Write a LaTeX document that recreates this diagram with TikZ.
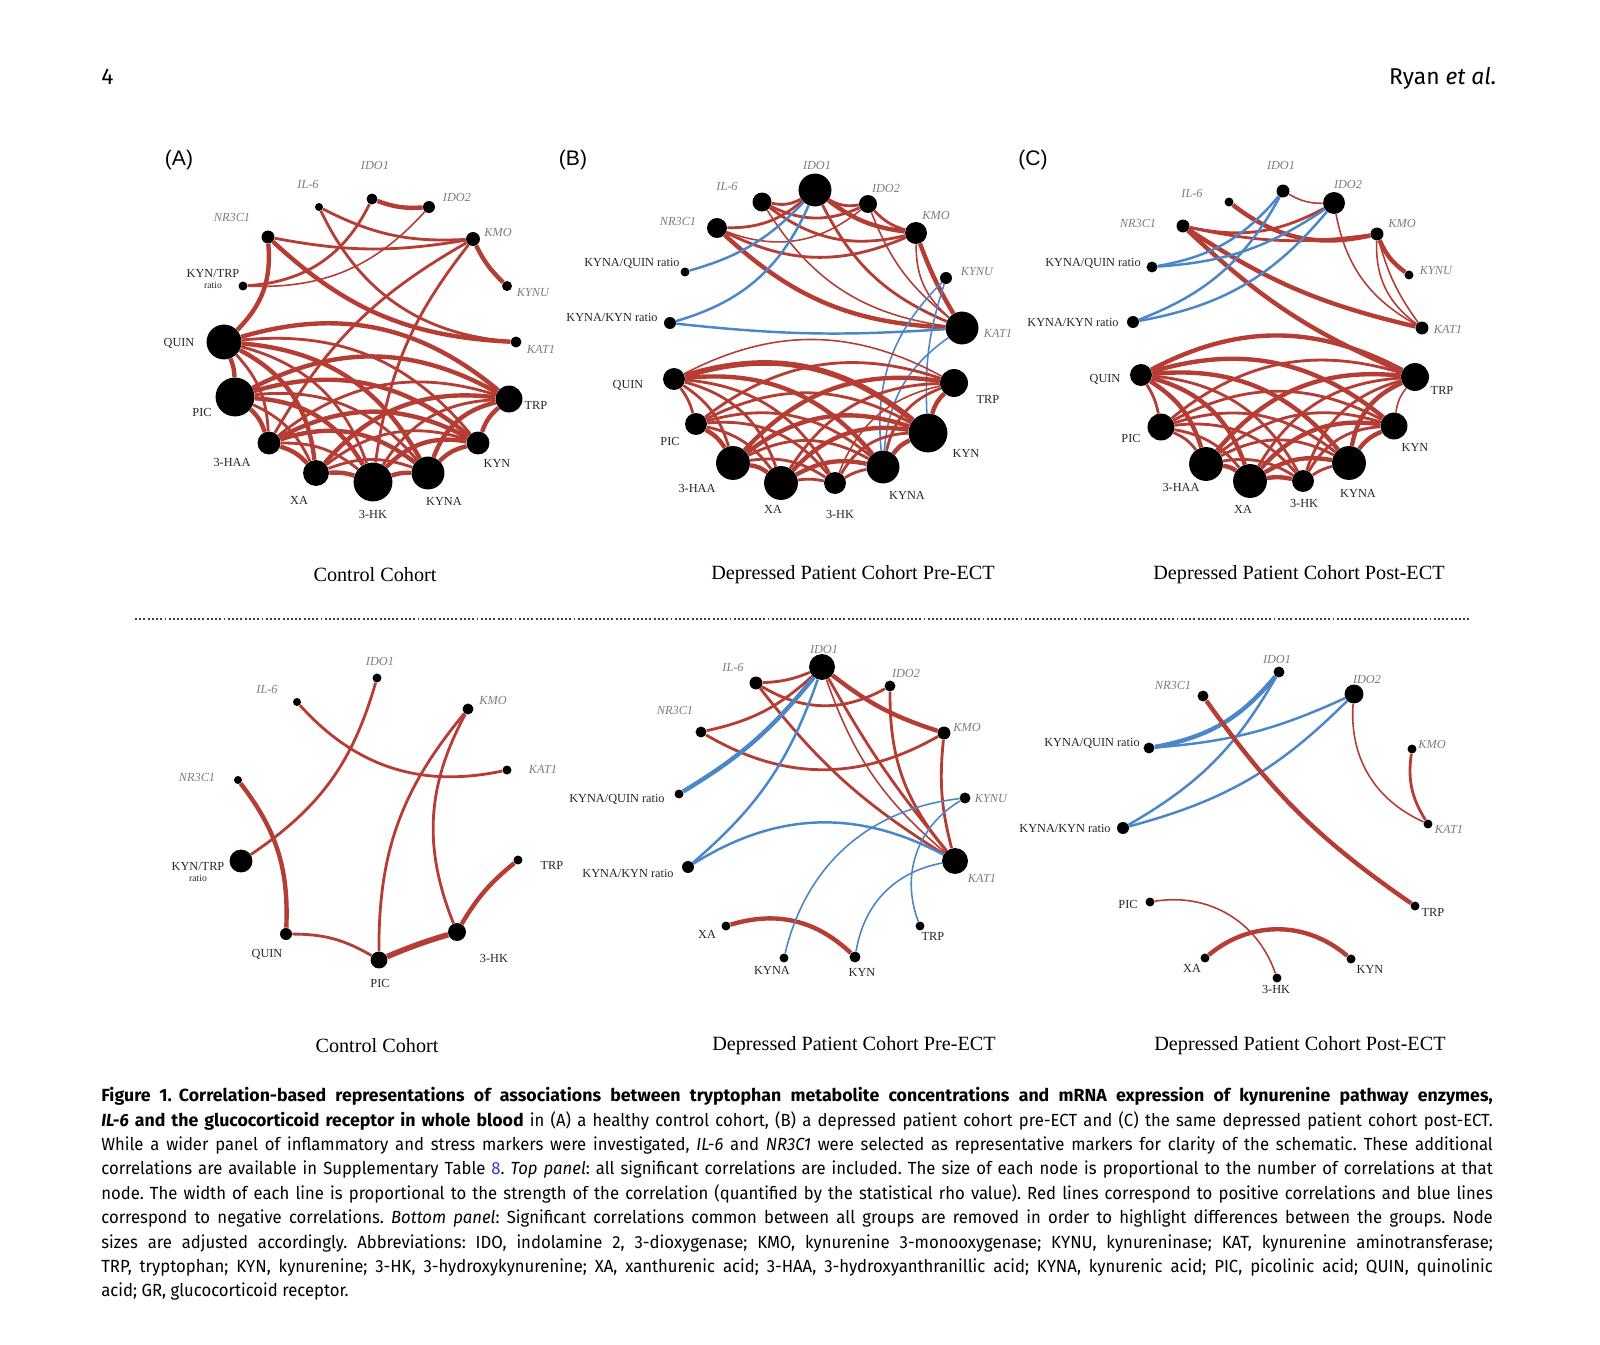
\documentclass[tikz,border=0pt]{standalone}
\usepackage{fontspec}
\setmainfont{Liberation Serif}
\newfontfamily\capfont[FakeStretch=0.95, BoldFeatures={FakeStretch=1.01}]{Fira Sans}
\newfontfamily\headfont{Fira Sans}
\newfontfamily\panelfont{Liberation Sans}
\usepackage{xcolor}
\usepackage{tikz}

\definecolor{posred}{RGB}{181,61,52}
\definecolor{negblue}{RGB}{74,134,200}
\definecolor{genegray}{RGB}{125,125,125}
\definecolor{linkblue}{RGB}{40,60,220}

\pgfdeclarelayer{paper}
\pgfdeclarelayer{links}
\pgfsetlayers{paper,links,main}

\begin{document}
\begin{tikzpicture}[
    x=0.02cm, y=-0.02cm,
    met/.style={circle, fill=black, inner sep=0pt, minimum size=1.134pt*#1},
    gene/.style={font=\fontsize{7}{8}\selectfont\itshape, text=genegray, inner sep=0pt},
    metab/.style={font=\fontsize{7}{8}\selectfont, text=black!85, inner sep=0pt},
    poscor/.style={draw=posred, line width=1.6pt},
    negcor/.style={draw=negblue, line width=1.4pt},
    fine/.style={line width=0.9pt},
    heavy/.style={line width=2.5pt},
    inward/.style={bend right=#1},
    inward/.default=28,
    cohort/.style={font=\fontsize{11.5}{13}\selectfont},
    panel/.style={font=\panelfont\fontsize{12}{14}\selectfont},
    header/.style={font=\headfont\fontsize{13}{15}\selectfont, inner sep=0pt},
    capt/.style={font=\capfont\fontsize{10}{13.9}\selectfont, inner sep=0pt, text width=792pt, align=justify},
    sep/.style={draw=black!75, line width=1.3pt, dash pattern=on 1.1pt off 1.3pt}
]
\begin{pgfonlayer}{paper}
\fill[white] (0,0) rectangle (1600,1345);
\end{pgfonlayer}
\useasboundingbox (0,0) rectangle (1600,1345);

% Running head
\node[header, anchor=base west] (pagenum) at (101,85) {4};
\node[header, anchor=base east] (runhead) at (1497,85) {Ryan \textit{et al.}};

% Panel letters
\node[panel] (letA) at (179,160) {(A)};
\node[panel] (letB) at (573,160) {(B)};
\node[panel] (letC) at (1033,160) {(C)};

% (A) top nodes
\node[met=5.5] (IDO1a) at (372,199) {};
\node[met=4] (IL6a) at (319,207) {};
\node[met=6] (IDO2a) at (429,207) {};
\node[met=6.5] (NR3C1a) at (268,237) {};
\node[met=7] (KMOa) at (473,239) {};
\node[met=4.5] (KTRa) at (243,286) {};
\node[met=5] (KYNUa) at (507,286) {};
\node[met=17.5] (QUINa) at (224,342) {};
\node[met=5.5] (KAT1a) at (516,342) {};
\node[met=19.5] (PICa) at (235,397) {};
\node[met=13.5] (TRPa) at (509,399) {};
\node[met=11.5] (HAAa) at (269,443) {};
\node[met=11.5] (KYNa) at (478,443) {};
\node[met=13] (XAa) at (316,473) {};
\node[met=19.5] (HKa) at (373,482) {};
\node[met=16.5] (KYNAa) at (428,473) {};

% (A) top labels
\node[gene] (lIDO1a) at (375,165) {IDO1};
\node[gene] (lIL6a) at (308,184) {IL-6};
\node[gene] (lIDO2a) at (457,197) {IDO2};
\node[gene] (lNR3C1a) at (232,217) {NR3C1};
\node[gene] (lKMOa) at (498,232) {KMO};
\node[gene] (lKYNUa) at (533,293) {KYNU};
\node[gene] (lKAT1a) at (541,349) {KAT1};
\node[metab, align=center] (lKTRa) at (213,279) {KYN/TRP\\[-2pt]{\fontsize{5.5}{6}\selectfont ratio}};
\node[metab] (lQUINa) at (179,343) {QUIN};
\node[metab] (lPICa) at (202,412) {PIC};
\node[metab] (lTRPa) at (536,405) {TRP};
\node[metab] (lHAAa) at (232,462) {3-HAA};
\node[metab] (lKYNa) at (497,463) {KYN};
\node[metab] (lXAa) at (299,500) {XA};
\node[metab] (lHKa) at (373,514) {3-HK};
\node[metab] (lKYNAa) at (444,501) {KYNA};

% (B) top nodes
\node[met=16.5] (IDO1b) at (815,190) {};
\node[met=9.5] (IL6b) at (762,202) {};
\node[met=9] (IDO2b) at (868,204) {};
\node[met=10] (NR3C1b) at (717,228) {};
\node[met=11] (KMOb) at (916,233) {};
\node[met=4.5] (KQb) at (685,272) {};
\node[met=6] (KYNUb) at (946,278) {};
\node[met=6] (KKb) at (670,323) {};
\node[met=16.5] (KAT1b) at (962,328) {};
\node[met=11] (QUINb) at (674,379) {};
\node[met=14] (TRPb) at (954,383) {};
\node[met=11] (PICb) at (696,424) {};
\node[met=19.5] (KYNb) at (928,433) {};
\node[met=17] (HAAb) at (733,463) {};
\node[met=16.5] (KYNAb) at (883,467) {};
\node[met=17] (XAb) at (781,483) {};
\node[met=11] (HKb) at (835,483) {};

% (B) top labels
\node[gene] (lIDO1b) at (817,165) {IDO1};
\node[gene] (lIL6b) at (727,186) {IL-6};
\node[gene] (lIDO2b) at (886,188) {IDO2};
\node[gene] (lNR3C1b) at (678,221) {NR3C1};
\node[gene] (lKMOb) at (936,215) {KMO};
\node[gene] (lKYNUb) at (977,272) {KYNU};
\node[gene] (lKAT1b) at (998,333) {KAT1};
\node[metab] (lKQb) at (632,263) {KYNA/QUIN ratio};
\node[metab] (lKKb) at (612,317) {KYNA/KYN ratio};
\node[metab] (lQUINb) at (628,385) {QUIN};
\node[metab] (lTRPb) at (988,399) {TRP};
\node[metab] (lPICb) at (670,441) {PIC};
\node[metab] (lKYNb) at (966,453) {KYN};
\node[metab] (lHAAb) at (697,488) {3-HAA};
\node[metab] (lKYNAb) at (907,495) {KYNA};
\node[metab] (lXAb) at (773,509) {XA};
\node[metab] (lHKb) at (840,514) {3-HK};

% (C) top nodes
\node[met=6.5] (IDO1c) at (1283,191) {};
\node[met=11] (IDO2c) at (1334,203) {};
\node[met=4.5] (IL6c) at (1229,202) {};
\node[met=6.5] (NR3C1c) at (1183,226) {};
\node[met=6.5] (KMOc) at (1377,234) {};
\node[met=5.5] (KQc) at (1152,267) {};
\node[met=4.5] (KYNUc) at (1409,275) {};
\node[met=6] (KKc) at (1133,322) {};
\node[met=6.5] (KAT1c) at (1422,328) {};
\node[met=11] (QUINc) at (1141,375) {};
\node[met=14] (TRPc) at (1415,377) {};
\node[met=13.5] (PICc) at (1161,427) {};
\node[met=13.5] (KYNc) at (1394,426) {};
\node[met=17] (HAAc) at (1206,464) {};
\node[met=17] (KYNAc) at (1349,463) {};
\node[met=17] (XAc) at (1250,481) {};
\node[met=11] (HKc) at (1303,481) {};

% (C) top labels
\node[gene] (lIDO1c) at (1281,165) {IDO1};
\node[gene] (lIDO2c) at (1348,184) {IDO2};
\node[gene] (lIL6c) at (1192,193) {IL-6};
\node[gene] (lNR3C1c) at (1138,223) {NR3C1};
\node[gene] (lKMOc) at (1402,223) {KMO};
\node[gene] (lKYNUc) at (1436,271) {KYNU};
\node[gene] (lKAT1c) at (1448,329) {KAT1};
\node[metab] (lKQc) at (1093,263) {KYNA/QUIN ratio};
\node[metab] (lKKc) at (1073,322) {KYNA/KYN ratio};
\node[metab] (lQUINc) at (1105,379) {QUIN};
\node[metab] (lTRPc) at (1442,390) {TRP};
\node[metab] (lPICc) at (1131,438) {PIC};
\node[metab] (lKYNc) at (1415,447) {KYN};
\node[metab] (lHAAc) at (1181,487) {3-HAA};
\node[metab] (lKYNAc) at (1358,493) {KYNA};
\node[metab] (lXAc) at (1243,509) {XA};
\node[metab] (lHKc) at (1304,503) {3-HK};

% (A) bottom nodes
\node[met=4.5] (IDO1d) at (377,678) {};
\node[met=4] (IL6d) at (297,702) {};
\node[met=5.5] (KMOd) at (468,709) {};
\node[met=4.5] (KAT1d) at (507,770) {};
\node[met=4] (NR3C1d) at (238,780) {};
\node[met=11.5] (KTRd) at (241,861) {};
\node[met=4.5] (TRPd) at (518,860) {};
\node[met=6] (QUINd) at (286,934) {};
\node[met=9] (HKd) at (457,932) {};
\node[met=8.5] (PICd) at (379,960) {};

% (A) bottom labels
\node[gene] (lIDO1d) at (380,661) {IDO1};
\node[gene] (lIL6d) at (267,689) {IL-6};
\node[gene] (lKMOd) at (493,700) {KMO};
\node[gene] (lKAT1d) at (543,769) {KAT1};
\node[gene] (lNR3C1d) at (197,777) {NR3C1};
\node[metab, align=center] (lKTRd) at (198,872) {KYN/TRP\\[-2pt]{\fontsize{5.5}{6}\selectfont ratio}};
\node[metab] (lTRPd) at (552,865) {TRP};
\node[metab] (lQUINd) at (267,954) {QUIN};
\node[metab] (lHKd) at (494,958) {3-HK};
\node[metab] (lPICd) at (380,983) {PIC};

% (B) bottom nodes
\node[met=13] (IDO1e) at (822,667) {};
\node[met=6.5] (IL6e) at (756,683) {};
\node[met=5.5] (IDO2e) at (890,686) {};
\node[met=5.5] (NR3C1e) at (701,732) {};
\node[met=6.5] (KMOe) at (944,733) {};
\node[met=4.5] (KQe) at (679,794) {};
\node[met=5.5] (KYNUe) at (965,798) {};
\node[met=6] (KKe) at (688,867) {};
\node[met=13] (KAT1e) at (955,861) {};
\node[met=4.5] (XAe) at (726,926) {};
\node[met=4.5] (TRPe) at (920,926) {};
\node[met=4.5] (KYNAe) at (784,958) {};
\node[met=5.5] (KYNe) at (855,957) {};

% (B) bottom labels
\node[gene] (lIDO1e) at (824,649) {IDO1};
\node[gene] (lIL6e) at (733,667) {IL-6};
\node[gene] (lIDO2e) at (906,673) {IDO2};
\node[gene] (lNR3C1e) at (675,710) {NR3C1};
\node[gene] (lKMOe) at (967,727) {KMO};
\node[gene] (lKYNUe) at (991,799) {KYNU};
\node[gene] (lKAT1e) at (982,878) {KAT1};
\node[metab] (lKQe) at (617,799) {KYNA/QUIN ratio};
\node[metab] (lKKe) at (628,873) {KYNA/KYN ratio};
\node[metab] (lXAe) at (707,934) {XA};
\node[metab] (lTRPe) at (933,936) {TRP};
\node[metab] (lKYNAe) at (772,970) {KYNA};
\node[metab] (lKYNe) at (862,972) {KYN};

% (C) bottom nodes
\node[met=5.5] (IDO1f) at (1279,672) {};
\node[met=5.5] (NR3C1f) at (1203,696) {};
\node[met=9.5] (IDO2f) at (1354,694) {};
\node[met=5.5] (KQf) at (1149,748) {};
\node[met=4.5] (KMOf) at (1412,749) {};
\node[met=6] (KKf) at (1123,828) {};
\node[met=4.5] (KAT1f) at (1428,824) {};
\node[met=4.5] (PICf) at (1150,902) {};
\node[met=4.5] (TRPf) at (1415,906) {};
\node[met=4.5] (XAf) at (1205,958) {};
\node[met=4.5] (KYNf) at (1351,959) {};
\node[met=4.5] (HKf) at (1277,978) {};

% (C) bottom labels
\node[gene] (lIDO1f) at (1277,659) {IDO1};
\node[gene] (lNR3C1f) at (1173,685) {NR3C1};
\node[gene] (lIDO2f) at (1367,679) {IDO2};
\node[gene] (lKMOf) at (1432,744) {KMO};
\node[gene] (lKAT1f) at (1449,829) {KAT1};
\node[metab] (lKQf) at (1092,743) {KYNA/QUIN ratio};
\node[metab] (lKKf) at (1065,828) {KYNA/KYN ratio};
\node[metab] (lPICf) at (1128,904) {PIC};
\node[metab] (lTRPf) at (1433,912) {TRP};
\node[metab] (lXAf) at (1192,968) {XA};
\node[metab] (lKYNf) at (1370,969) {KYN};
\node[metab] (lHKf) at (1276,989) {3-HK};

\begin{pgfonlayer}{links}
% (A) top: enzyme links
\draw[poscor, heavy] (IDO1a) to[inward=12] (IDO2a);
\draw[poscor] (KTRa) to[inward=30] (IDO1a);
\draw[poscor, fine] (KTRa) to[inward=25] (IDO2a);
\draw[poscor] (IL6a) to[inward=15] (KMOa);
\draw[poscor] (IL6a) to[inward=30] (KAT1a);
\draw[poscor] (NR3C1a) to[inward=10] (KMOa);
\draw[poscor, heavy] (NR3C1a) to[inward=20] (KAT1a);
\draw[poscor, heavy] (QUINa) to[inward=25] (NR3C1a);
\draw[poscor, heavy] (KMOa) to[inward=10] (KYNUa);
\draw[poscor] (KMOa) to[inward=15] (HAAa);
\draw[poscor] (KMOa) to[inward=15] (HKa);
% (A) top: metabolite links
\draw[poscor, heavy] (TRPa) to[inward=15] (KYNa);
\draw[poscor, heavy] (TRPa) to[inward] (KYNAa);
\draw[poscor] (TRPa) to[inward] (HKa);
\draw[poscor, heavy] (TRPa) to[inward] (XAa);
\draw[poscor] (TRPa) to[inward] (HAAa);
\draw[poscor, heavy] (TRPa) to[inward] (PICa);
\draw[poscor, heavy] (TRPa) to[inward] (QUINa);
\draw[poscor, heavy] (KYNa) to[inward=15] (KYNAa);
\draw[poscor, heavy] (KYNa) to[inward] (HKa);
\draw[poscor] (KYNa) to[inward] (XAa);
\draw[poscor, heavy] (KYNa) to[inward] (HAAa);
\draw[poscor, heavy] (KYNa) to[inward] (PICa);
\draw[poscor] (KYNa) to[inward] (QUINa);
\draw[poscor, heavy] (KYNAa) to[inward=10] (HKa);
\draw[poscor] (KYNAa) to[inward=20] (XAa);
\draw[poscor, heavy] (KYNAa) to[inward] (HAAa);
\draw[poscor] (KYNAa) to[inward] (PICa);
\draw[poscor, heavy] (KYNAa) to[inward] (QUINa);
\draw[poscor, heavy] (HKa) to[inward=10] (XAa);
\draw[poscor] (HKa) to[inward=20] (HAAa);
\draw[poscor, heavy] (HKa) to[inward] (PICa);
\draw[poscor] (HKa) to[inward] (QUINa);
\draw[poscor, heavy] (XAa) to[inward=15] (HAAa);
\draw[poscor] (XAa) to[inward=20] (PICa);
\draw[poscor, heavy] (XAa) to[inward] (QUINa);
\draw[poscor, heavy] (HAAa) to[inward=15] (PICa);
\draw[poscor] (HAAa) to[inward=20] (QUINa);
\draw[poscor, heavy] (PICa) to[inward=10] (QUINa);

% (B) top: enzyme links
\draw[poscor] (IL6b) to[inward=20] (IDO1b);
\draw[poscor] (IL6b) to[inward=25] (IDO2b);
\draw[poscor] (IL6b) to[inward=25] (KMOb);
\draw[poscor, fine] (IL6b) to[inward=25] (KAT1b);
\draw[poscor] (IDO1b) to[inward=20] (IDO2b);
\draw[poscor, heavy] (IDO1b) to[inward=15] (KMOb);
\draw[poscor] (IDO1b) to[inward=20] (KAT1b);
\draw[poscor] (IDO2b) to[inward=15] (KMOb);
\draw[poscor, fine] (IDO2b) to[inward=15] (KAT1b);
\draw[poscor] (NR3C1b) to[inward=20] (IDO1b);
\draw[poscor, fine] (NR3C1b) to[inward=30] (IDO2b);
\draw[poscor] (NR3C1b) to[inward=25] (KMOb);
\draw[poscor, heavy] (NR3C1b) to[inward=20] (KAT1b);
\draw[poscor, heavy] (KMOb) to[inward=5] (KAT1b);
\draw[poscor, fine] (KMOb) to[inward=25] (KAT1b);
\draw[negcor] (KQb) to[inward=15] (IDO1b);
\draw[negcor] (KKb) to[inward=25] (IDO1b);
\draw[negcor] (KKb) to[inward=5] (KAT1b);
\draw[negcor, fine] (KYNUb) to[inward=10] (KYNb);
\draw[negcor, fine] (KYNUb) to[inward=25] (KYNAb);
\draw[negcor, fine] (KAT1b) to[inward=25] (KYNAb);
% (B) top: metabolite links
\draw[poscor, heavy] (TRPb) to[inward=15] (KYNb);
\draw[poscor] (TRPb) to[inward] (KYNAb);
\draw[poscor, fine] (TRPb) to[inward] (HKb);
\draw[poscor] (TRPb) to[inward] (XAb);
\draw[poscor, heavy] (TRPb) to[inward] (HAAb);
\draw[poscor] (TRPb) to[inward] (PICb);
\draw[poscor, fine] (TRPb) to[inward] (QUINb);
\draw[poscor, heavy] (KYNb) to[inward=15] (KYNAb);
\draw[poscor] (KYNb) to[inward] (HKb);
\draw[poscor, heavy] (KYNb) to[inward] (XAb);
\draw[poscor, heavy] (KYNb) to[inward] (HAAb);
\draw[poscor] (KYNb) to[inward] (PICb);
\draw[poscor, line width=3.2pt] (KYNb) to[inward] (QUINb);
\draw[poscor] (KYNAb) to[inward=10] (HKb);
\draw[poscor, heavy] (KYNAb) to[inward=20] (XAb);
\draw[poscor] (KYNAb) to[inward] (HAAb);
\draw[poscor] (KYNAb) to[inward] (PICb);
\draw[poscor, heavy] (KYNAb) to[inward] (QUINb);
\draw[poscor] (HKb) to[inward=10] (XAb);
\draw[poscor] (HKb) to[inward=20] (HAAb);
\draw[poscor] (HKb) to[inward] (PICb);
\draw[poscor] (HKb) to[inward] (QUINb);
\draw[poscor, heavy] (XAb) to[inward=15] (HAAb);
\draw[poscor] (XAb) to[inward=20] (PICb);
\draw[poscor] (XAb) to[inward] (QUINb);
\draw[poscor, heavy] (HAAb) to[inward=15] (PICb);
\draw[poscor] (HAAb) to[inward=20] (QUINb);
\draw[poscor] (PICb) to[inward=10] (QUINb);

% (C) top: enzyme links
\draw[poscor, fine] (IDO1c) to[inward=15] (IDO2c);
\draw[poscor, heavy] (IL6c) to[inward=25] (KMOc);
\draw[poscor] (NR3C1c) to[inward=20] (IDO2c);
\draw[poscor] (NR3C1c) to[inward=10] (KMOc);
\draw[poscor, heavy] (NR3C1c) to[inward=10] (KAT1c);
\draw[poscor, heavy] (NR3C1c) to[inward=10] (TRPc);
\draw[poscor, fine] (IDO2c) to[inward=25] (KAT1c);
\draw[poscor, heavy] (KMOc) to[inward=15] (KYNUc);
\draw[poscor, fine] (KMOc) to[inward=10] (KAT1c);
\draw[poscor, fine] (KMOc) to[inward=28] (KAT1c);
\draw[negcor] (KQc) to[inward=20] (IDO1c);
\draw[negcor] (KQc) to[inward=15] (IDO2c);
\draw[negcor] (KKc) to[inward=20] (IDO1c);
\draw[negcor] (KKc) to[inward=20] (IDO2c);
% (C) top: metabolite links
\draw[poscor, fine] (TRPc) to[inward=15] (KYNc);
\draw[poscor, heavy] (TRPc) to[inward] (KYNAc);
\draw[poscor] (TRPc) to[inward] (HKc);
\draw[poscor] (TRPc) to[inward] (XAc);
\draw[poscor, heavy] (TRPc) to[inward] (HAAc);
\draw[poscor] (TRPc) to[inward] (PICc);
\draw[poscor, heavy] (TRPc) to[inward] (QUINc);
\draw[poscor, heavy] (KYNc) to[inward=15] (KYNAc);
\draw[poscor] (KYNc) to[inward] (HKc);
\draw[poscor, heavy] (KYNc) to[inward] (XAc);
\draw[poscor] (KYNc) to[inward] (HAAc);
\draw[poscor] (KYNc) to[inward] (PICc);
\draw[poscor, heavy] (KYNc) to[inward] (QUINc);
\draw[poscor] (KYNAc) to[inward=10] (HKc);
\draw[poscor, heavy] (KYNAc) to[inward=20] (XAc);
\draw[poscor] (KYNAc) to[inward] (HAAc);
\draw[poscor] (KYNAc) to[inward] (PICc);
\draw[poscor, heavy] (KYNAc) to[inward] (QUINc);
\draw[poscor, heavy] (HKc) to[inward=10] (XAc);
\draw[poscor] (HKc) to[inward=20] (HAAc);
\draw[poscor] (HKc) to[inward] (PICc);
\draw[poscor] (HKc) to[inward] (QUINc);
\draw[poscor, heavy] (XAc) to[inward=15] (HAAc);
\draw[poscor] (XAc) to[inward=20] (PICc);
\draw[poscor, heavy] (XAc) to[inward] (QUINc);
\draw[poscor] (HAAc) to[inward=15] (PICc);
\draw[poscor, heavy] (HAAc) to[inward=20] (QUINc);
\draw[poscor] (PICc) to[inward=10] (QUINc);

% (A) bottom links
\draw[poscor] (KTRd) to[inward=20] (IDO1d);
\draw[poscor] (IL6d) to[inward=30] (KAT1d);
\draw[poscor, heavy] (QUINd) to[inward=20] (NR3C1d);
\draw[poscor] (PICd) to[inward=15] (QUINd);
\draw[poscor, line width=3.2pt] (HKd) to[inward=3] (PICd);
\draw[poscor] (KMOd) to[inward=20] (PICd);
\draw[poscor] (KMOd) to[inward=25] (HKd);
\draw[poscor, heavy] (TRPd) to[inward=10] (HKd);

% (B) bottom links
\draw[poscor] (IL6e) to[inward=10] (IDO1e);
\draw[poscor] (IL6e) to[inward=30] (IDO2e);
\draw[poscor] (IL6e) to[inward=10] (KAT1e);
\draw[poscor] (NR3C1e) to[inward=15] (IDO1e);
\draw[poscor] (NR3C1e) to[inward=30] (KMOe);
\draw[poscor, heavy] (IDO1e) to[inward=10] (KMOe);
\draw[poscor] (IDO1e) to[inward=5] (KAT1e);
\draw[poscor, fine] (IDO1e) to[inward=15] (KAT1e);
\draw[poscor] (IDO2e) to[inward=20] (KAT1e);
\draw[poscor] (KMOe) to[inward=10] (KAT1e);
\draw[poscor, heavy] (KYNe) to[inward=30] (XAe);
\draw[negcor, heavy] (KQe) to[inward=10] (IDO1e);
\draw[negcor] (KKe) to[inward=15] (IDO1e);
\draw[negcor] (KAT1e) to[inward=30] (KKe);
\draw[negcor, fine] (KYNUe) to[inward=35] (KYNAe);
\draw[negcor, fine] (KAT1e) to[inward=35] (KYNe);
\draw[negcor, fine] (KYNUe) to[inward=40] (TRPe);

% (C) bottom links
\draw[negcor, heavy] (KQf) to[inward=20] (IDO1f);
\draw[negcor] (KKf) to[inward=15] (IDO1f);
\draw[negcor] (KQf) to[inward=10] (IDO2f);
\draw[negcor] (KKf) to[inward=15] (IDO2f);
\draw[poscor, heavy] (NR3C1f) to[inward=10] (TRPf);
\draw[poscor, fine] (IDO2f) to[inward=35] (KAT1f);
\draw[poscor] (KMOf) to[inward=20] (KAT1f);
\draw[poscor, fine] (HKf) to[inward=40] (PICf);
\draw[poscor, heavy] (KYNf) to[inward=40] (XAf);
\end{pgfonlayer}

% Cohort titles
\node[cohort] (titleA) at (375,575) {Control Cohort};
\node[cohort] (titleB) at (853,575) {Depressed Patient Cohort Pre-ECT};
\node[cohort] (titleC) at (1299,575) {Depressed Patient Cohort Post-ECT};
\node[cohort] (titleD) at (377,1046) {Control Cohort};
\node[cohort] (titleE) at (854,1046) {Depressed Patient Cohort Pre-ECT};
\node[cohort] (titleF) at (1300,1046) {Depressed Patient Cohort Post-ECT};

% Separator between panels
\coordinate (sepL) at (135,619);
\coordinate (sepR) at (1469,619);
\draw[sep] (sepL) -- (sepR);

% Caption
\node[capt, anchor=north west] (caption) at (101,1087) {\frenchspacing\hyphenpenalty=10000\exhyphenpenalty=10000
\textbf{Figure\hspace{0.5em}1.\hspace{0.4em}Correlation-based representations of associations between tryptophan metabolite concentrations and mRNA expression of kynurenine pathway enzymes,}\linebreak
\textbf{\textit{IL-6} and the glucocorticoid receptor in whole blood} in (A) a healthy control cohort, (B) a depressed patient cohort pre-ECT and (C) the same depressed patient cohort post-ECT.\linebreak
While a wider panel of inflammatory and stress markers were investigated, \textit{IL-6} and \textit{NR3C1} were selected as representative markers for clarity of the schematic. These additional\linebreak
correlations are available in Supplementary Table~{\color{linkblue}8}. \textit{Top panel}: all significant correlations are included. The size of each node is proportional to the number of correlations at that\linebreak
node. The width of each line is proportional to the strength of the correlation (quantified by the statistical rho value). Red lines correspond to positive correlations and blue lines\linebreak
correspond to negative correlations. \textit{Bottom panel}: Significant correlations common between all groups are removed in order to highlight differences between the groups. Node\linebreak
sizes are adjusted accordingly. Abbreviations: IDO, indolamine 2, 3-dioxygenase; KMO, kynurenine 3-monooxygenase; KYNU, kynureninase; KAT, kynurenine aminotransferase;\linebreak
TRP, tryptophan; KYN, kynurenine; 3-HK, 3-hydroxykynurenine; XA, xanthurenic acid; 3-HAA, 3-hydroxyanthranillic acid; KYNA, kynurenic acid; PIC, picolinic acid; QUIN, quinolinic\linebreak
acid; GR, glucocorticoid receptor.};

\end{tikzpicture}
\end{document}
